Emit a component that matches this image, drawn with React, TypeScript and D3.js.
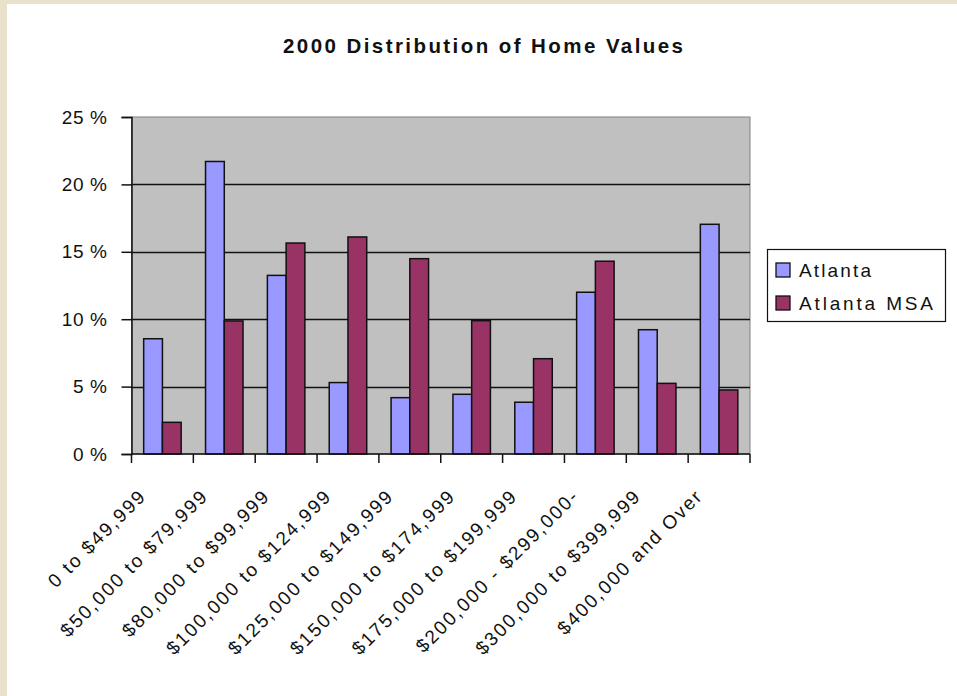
import React, { useEffect, useRef } from 'react';
import * as d3 from 'd3';

const categories = [
  '0 to $49,999',
  '$50,000 to $79,999',
  '$80,000 to $99,999',
  '$100,000 to $124,999',
  '$125,000 to $149,999',
  '$150,000 to $174,999',
  '$175,000 to $199,999',
  '$200,000 - $299,000-',
  '$300,000 to $399,999',
  '$400,000 and Over',
];
const seriesNames = ['Atlanta', 'Atlanta MSA'];
const atlanta = [8.55, 21.7, 13.25, 5.3, 4.18, 4.43, 3.84, 12.0, 9.22, 17.04];
const atlantaMsa = [2.35, 9.87, 15.65, 16.1, 14.49, 9.89, 7.07, 14.3, 5.24, 4.75];
const yTicks = [0, 5, 10, 15, 20, 25];
const colors = ['#9999FF', '#993366'];

function App() {
  const svgRef = useRef<SVGSVGElement>(null);

  useEffect(() => {
    const svg = d3.select(svgRef.current);
    svg.selectAll('*').remove();

    const width = 957;
    const height = 696;
    const font = "'Liberation Sans', Arial, sans-serif";

    // parchment border and white chart page
    svg.append('rect').attr('width', width).attr('height', height).attr('fill', '#E9E1CC');
    svg.append('rect').attr('x', 7).attr('y', 4).attr('width', width - 7).attr('height', height - 4).attr('fill', '#fff');

    const x = d3.scaleBand().domain(categories).range([131.5, 750]);
    const xs = d3.scaleBand().domain(seriesNames).range([0, x.bandwidth()]).paddingOuter(0.65);
    const y = d3.scaleLinear().domain([0, 25]).range([454, 117]);

    // plot area
    svg.append('rect')
      .attr('x', 131.5).attr('y', 117)
      .attr('width', 750 - 131.5).attr('height', 454 - 117)
      .attr('fill', '#C0C0C0').attr('stroke', '#808080').attr('stroke-width', 1);

    svg.append('g')
      .selectAll('line')
      .data(yTicks.filter(t => t > 0 && t < 25))
      .enter()
      .append('line')
      .attr('x1', 131.5).attr('x2', 750)
      .attr('y1', d => Math.round(y(d)) + 0.5).attr('y2', d => Math.round(y(d)) + 0.5)
      .attr('stroke', '#111').attr('stroke-width', 1.3);

    // bars
    const data = [atlanta, atlantaMsa];
    data.forEach((vals, si) => {
      svg.append('g')
        .selectAll('rect')
        .data(vals)
        .enter()
        .append('rect')
        .attr('x', (d, i) => (x(categories[i]) ?? 0) + (xs(seriesNames[si]) ?? 0))
        .attr('y', d => y(d))
        .attr('width', xs.bandwidth())
        .attr('height', d => y(0) - y(d))
        .attr('fill', colors[si])
        .attr('stroke', '#111')
        .attr('stroke-width', 1.5);
    });

    // y axis
    const yAxis = svg.append('g').attr('transform', 'translate(131.5,0)')
      .call(d3.axisLeft(y).tickValues(yTicks).tickSize(10).tickPadding(14).tickFormat(d => `${d} %`));
    yAxis.select('.domain').attr('stroke', '#111').attr('stroke-width', 1.5);
    yAxis.selectAll('.tick line').attr('stroke', '#111').attr('stroke-width', 1.5);
    yAxis.selectAll('.tick text')
      .attr('font-family', font).attr('font-size', 19).attr('letter-spacing', 0.6).attr('fill', '#111');

    // x axis
    const xAxisG = svg.append('g').attr('transform', 'translate(0,454)');
    xAxisG.append('line').attr('x1', 131.5).attr('x2', 750).attr('stroke', '#111').attr('stroke-width', 1.5);
    xAxisG.selectAll('line.tk')
      .data(d3.range(categories.length + 1))
      .enter()
      .append('line')
      .attr('class', 'tk')
      .attr('x1', i => 131.5 + i * x.step()).attr('x2', i => 131.5 + i * x.step())
      .attr('y1', 0).attr('y2', 9)
      .attr('stroke', '#111').attr('stroke-width', 1.5);

    svg.append('g')
      .selectAll('text')
      .data(categories)
      .enter()
      .append('text')
      .attr('transform', d => `translate(${(x(d) ?? 0) + x.bandwidth() / 2 - 15},${497}) rotate(-45)`)
      .attr('text-anchor', 'end')
      .attr('font-family', font)
      .attr('font-size', 19)
      .attr('letter-spacing', 2)
      .attr('fill', '#111')
      .text(d => d);

    // title
    svg.append('text')
      .attr('x', 483).attr('y', 53)
      .attr('text-anchor', 'middle')
      .attr('font-family', font)
      .attr('font-size', 20.5)
      .attr('font-weight', 'bold')
      .attr('textLength', 400)
      .attr('lengthAdjust', 'spacing')
      .attr('fill', '#111')
      .text('2000 Distribution of Home Values');

    // legend
    const legend = svg.append('g');
    legend.append('rect')
      .attr('x', 767.5).attr('y', 249.5).attr('width', 178).attr('height', 72)
      .attr('fill', '#fff').attr('stroke', '#111').attr('stroke-width', 1.2);
    const legendWidths = [72, 134];
    seriesNames.forEach((name, i) => {
      const cy = 270 + i * 33;
      legend.append('rect')
        .attr('x', 776).attr('y', cy - 7).attr('width', 14).attr('height', 14)
        .attr('fill', colors[i]).attr('stroke', '#111').attr('stroke-width', 1.3);
      legend.append('text')
        .attr('x', 799).attr('y', cy + 7)
        .attr('font-family', font).attr('font-size', 19).attr('fill', '#111')
        .attr('textLength', legendWidths[i]).attr('lengthAdjust', 'spacing')
        .text(name);
    });
  }, []);

  return (
    <svg ref={svgRef} width={957} height={696} style={{ position: 'absolute', left: 0, top: 0 }}></svg>
  );
}

export default App;
